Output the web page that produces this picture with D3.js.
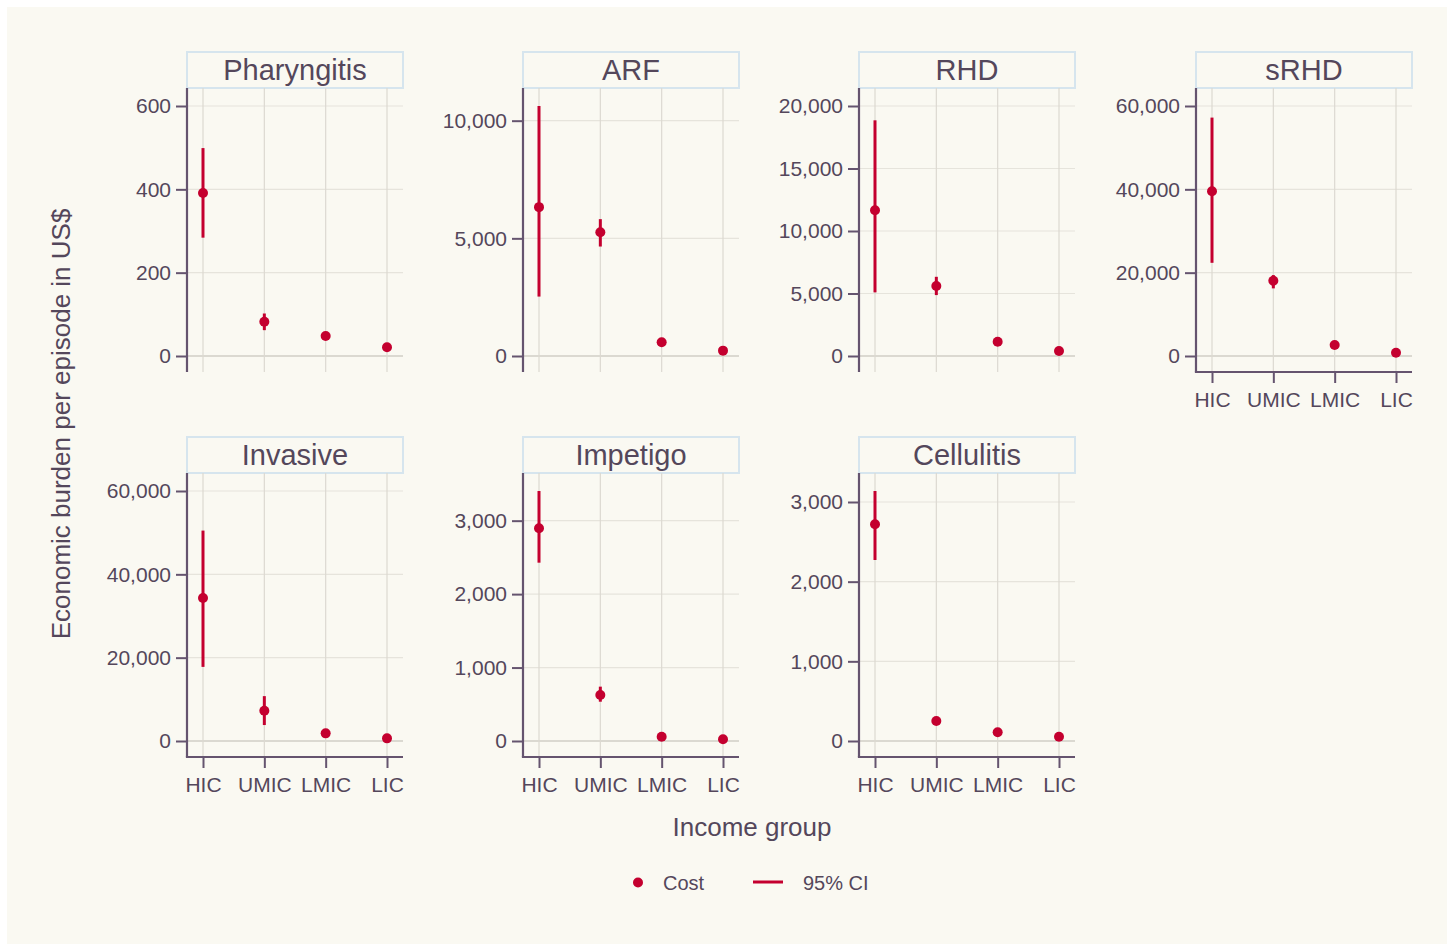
<!DOCTYPE html>
<html>
<head>
<meta charset="utf-8">
<script src="https://cdn.jsdelivr.net/npm/d3@7"></script>
<style>
  html, body { margin: 0; padding: 0; background: #ffffff; }
  svg { display: block; font-family: "Liberation Sans", Arial, sans-serif; }
</style>
</head>
<body>
<svg class="main" width="1447" height="944"></svg>
<script>
// income groups on the x axis
var groups = ['HIC', 'UMIC', 'LMIC', 'LIC']

// one small set of arrays per panel: cost, lower and upper bound of the 95% CI
var panelNames = ['Pharyngitis', 'ARF', 'RHD', 'sRHD', 'Invasive', 'Impetigo', 'Cellulitis']

var pharyngitisCost = [391, 82, 48, 21]
var pharyngitisLow  = [284, 62, 42, 18]
var pharyngitisHigh = [499, 102, 55, 25]
var pharyngitisTicks = [0, 200, 400, 600]

var arfCost = [6326, 5262, 582, 227]
var arfLow  = [2525, 4652, 480, 180]
var arfHigh = [10624, 5816, 690, 280]
var arfTicks = [0, 5000, 10000]

var rhdCost = [11664, 5593, 1145, 400]
var rhdLow  = [5089, 4873, 950, 320]
var rhdHigh = [18855, 6336, 1350, 480]
var rhdTicks = [0, 5000, 10000, 15000, 20000]

var srhdCost = [39553, 18050, 2637, 799]
var srhdLow  = [22365, 16229, 2100, 600]
var srhdHigh = [57218, 19417, 3200, 1000]
var srhdTicks = [0, 20000, 40000, 60000]

var invasiveCost = [34300, 7260, 1835, 638]
var invasiveLow  = [17786, 3829, 1500, 500]
var invasiveHigh = [50499, 10770, 2200, 800]
var invasiveTicks = [0, 20000, 40000, 60000]

var impetigoCost = [2896, 626, 59, 23]
var impetigoLow  = [2428, 535, 50, 19]
var impetigoHigh = [3404, 740, 68, 27]
var impetigoTicks = [0, 1000, 2000, 3000]

var cellulitisCost = [2720, 251, 109, 54]
var cellulitisLow  = [2272, 230, 95, 46]
var cellulitisHigh = [3138, 275, 122, 62]
var cellulitisTicks = [0, 1000, 2000, 3000]

var panels = [
  {name: panelNames[0], cost: pharyngitisCost, low: pharyngitisLow, high: pharyngitisHigh, ticks: pharyngitisTicks},
  {name: panelNames[1], cost: arfCost, low: arfLow, high: arfHigh, ticks: arfTicks},
  {name: panelNames[2], cost: rhdCost, low: rhdLow, high: rhdHigh, ticks: rhdTicks},
  {name: panelNames[3], cost: srhdCost, low: srhdLow, high: srhdHigh, ticks: srhdTicks},
  {name: panelNames[4], cost: invasiveCost, low: invasiveLow, high: invasiveHigh, ticks: invasiveTicks},
  {name: panelNames[5], cost: impetigoCost, low: impetigoLow, high: impetigoHigh, ticks: impetigoTicks},
  {name: panelNames[6], cost: cellulitisCost, low: cellulitisLow, high: cellulitisHigh, ticks: cellulitisTicks}
]

// colours
const bg = '#faf9f2'
const red = '#c4002f'
const axisColor = '#65546f'
const textColor = '#54475b'
const gridColor = '#e6e4dc'
const vGridColor = '#dcd9d1'
const zeroColor = '#bcb9b0'

const svg = d3.select('svg.main')

svg.append('rect')
  .attr('x', 7).attr('y', 7)
  .attr('width', 1440).attr('height', 937)
  .attr('fill', bg)

// layout of the facets
const panelW = 216
const plotH = 284
const colX = [187, 523, 859, 1196]
const rowY = [88, 473]
const padTop = 18, padBottom = 16

var numFmt = d3.format(',')

panels.forEach(function(p, k) {
  var col = k % 4
  var row = Math.floor(k / 4)
  var left = colX[col]
  var top = rowY[row]
  // bottom axis shown for the last panel of each column
  var showX = (row == 1) || (col == 3)

  var g = svg.append('g')
    .attr('transform', `translate(${left}, ${top})`)

  // scales
  const xScale = d3.scalePoint()
    .domain(groups)
    .range([16, panelW - 16])

  var lo = Math.min(0, d3.min(p.low), d3.min(p.ticks))
  var hi = Math.max(d3.max(p.high), d3.max(p.ticks))
  const yScale = d3.scaleLinear()
    .domain([lo, hi])
    .range([plotH - padBottom, padTop])

  // title strip
  g.append('rect')
    .attr('x', 0).attr('y', -36)
    .attr('width', panelW).attr('height', 36)
    .attr('fill', bg)
    .attr('stroke', '#d6e5ee')
    .attr('stroke-width', 2)
  g.append('text')
    .attr('x', panelW / 2).attr('y', -8)
    .attr('text-anchor', 'middle')
    .attr('font-size', 29)
    .attr('fill', textColor)
    .text(p.name)

  // horizontal grid
  g.selectAll('line.hgrid')
    .data(p.ticks).join('line')
    .attr('class', 'hgrid')
    .attr('x1', 0).attr('x2', panelW)
    .attr('y1', d => yScale(d)).attr('y2', d => yScale(d))
    .attr('stroke', d => d == 0 ? zeroColor : gridColor)
    .attr('stroke-width', 1.2)

  // vertical grid
  g.selectAll('line.vgrid')
    .data(groups).join('line')
    .attr('class', 'vgrid')
    .attr('x1', d => xScale(d)).attr('x2', d => xScale(d))
    .attr('y1', 0).attr('y2', plotH)
    .attr('stroke', vGridColor)
    .attr('stroke-width', 1.2)

  // y axis
  const yAxis = g.append('g')
    .call(d3.axisLeft(yScale).tickValues(p.ticks).tickFormat(numFmt).tickSize(11).tickPadding(5).tickSizeOuter(0))
  yAxis.select('.domain').remove()
  yAxis.selectAll('.tick line').attr('stroke', axisColor).attr('stroke-width', 2)
  yAxis.selectAll('.tick text')
    .attr('fill', textColor)
    .attr('font-size', 21)
    .attr('font-family', '"Liberation Sans", Arial, sans-serif')
  g.append('line')
    .attr('x1', 0).attr('x2', 0)
    .attr('y1', 0).attr('y2', plotH)
    .attr('stroke', axisColor)
    .attr('stroke-width', 2.2)

  // x axis
  if (showX) {
    const xAxis = g.append('g')
      .attr('transform', `translate(0, ${plotH})`)
      .call(d3.axisBottom(xScale).tickSize(11).tickPadding(9).tickSizeOuter(0))
    xAxis.select('.domain').remove()
    xAxis.selectAll('.tick line').attr('stroke', axisColor).attr('stroke-width', 2)
    xAxis.selectAll('.tick text')
      .attr('fill', textColor)
      .attr('font-size', 21)
      .attr('font-family', '"Liberation Sans", Arial, sans-serif')
    g.append('line')
      .attr('x1', -1.1).attr('x2', panelW)
      .attr('y1', plotH).attr('y2', plotH)
      .attr('stroke', axisColor)
      .attr('stroke-width', 2.2)
  }

  // confidence intervals
  g.selectAll('line.ci')
    .data(groups).join('line')
    .attr('class', 'ci')
    .attr('x1', d => xScale(d)).attr('x2', d => xScale(d))
    .attr('y1', (d, i) => yScale(p.low[i]))
    .attr('y2', (d, i) => yScale(p.high[i]))
    .attr('stroke', red)
    .attr('stroke-width', 3)

  // point estimates
  g.selectAll('circle.cost')
    .data(groups).join('circle')
    .attr('class', 'cost')
    .attr('cx', d => xScale(d))
    .attr('cy', (d, i) => yScale(p.cost[i]))
    .attr('r', 5)
    .attr('fill', red)
})

// axis titles
svg.append('text')
  .attr('transform', 'translate(70, 424) rotate(-90)')
  .attr('text-anchor', 'middle')
  .attr('font-size', 26)
  .attr('fill', textColor)
  .text('Economic burden per episode in US$')

svg.append('text')
  .attr('x', 752).attr('y', 836)
  .attr('text-anchor', 'middle')
  .attr('font-size', 26)
  .attr('fill', textColor)
  .text('Income group')

// legend
var legend = svg.append('g')
legend.append('circle')
  .attr('cx', 638).attr('cy', 882.5).attr('r', 5)
  .attr('fill', red)
legend.append('text')
  .attr('x', 663).attr('y', 890)
  .attr('font-size', 20)
  .attr('fill', textColor)
  .text('Cost')
legend.append('line')
  .attr('x1', 753).attr('x2', 783)
  .attr('y1', 882).attr('y2', 882)
  .attr('stroke', red).attr('stroke-width', 3)
legend.append('text')
  .attr('x', 803).attr('y', 890)
  .attr('font-size', 20)
  .attr('fill', textColor)
  .text('95% CI')
</script>
</body>
</html>
